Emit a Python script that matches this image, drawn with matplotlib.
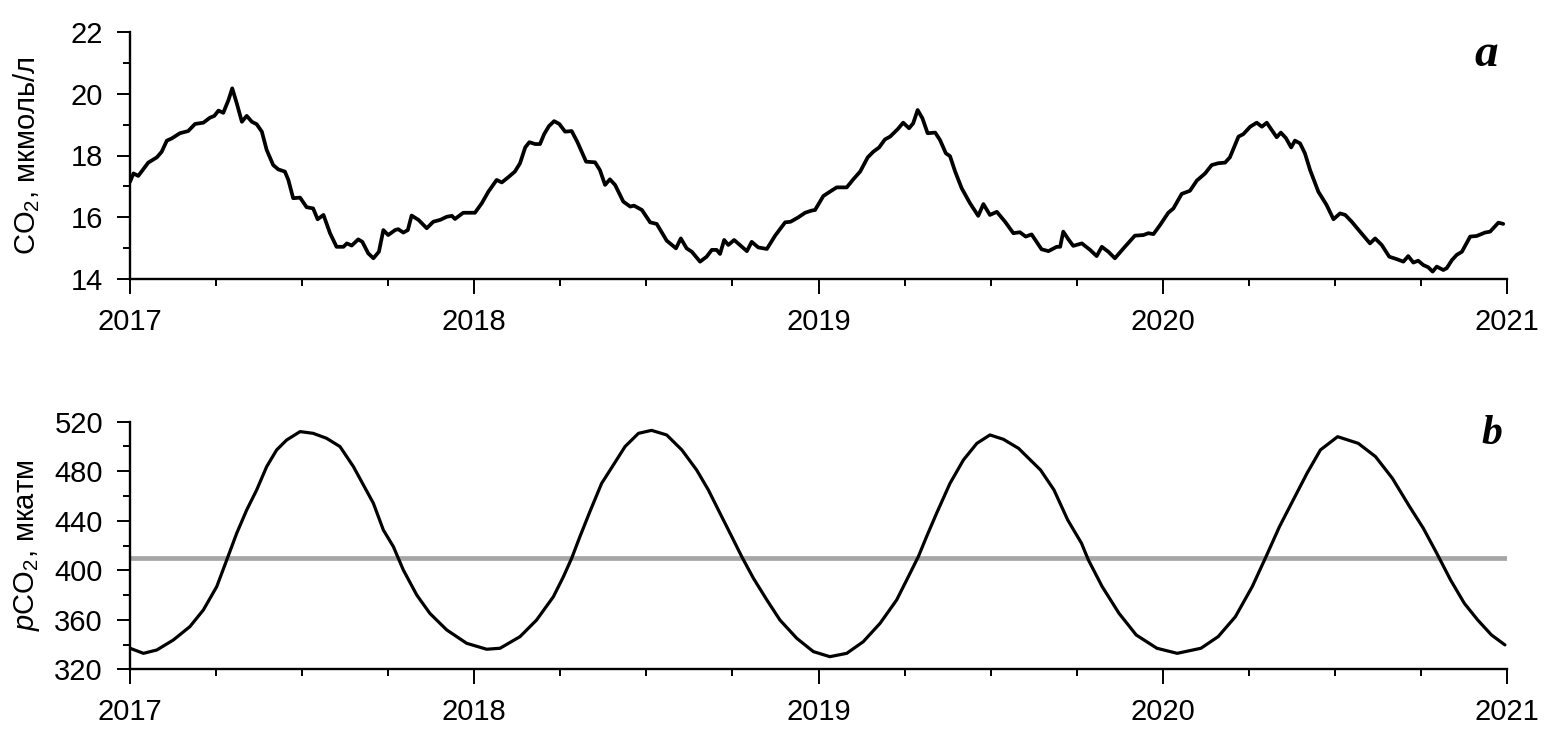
import matplotlib
matplotlib.use("Agg")
import matplotlib.pyplot as plt
from matplotlib.ticker import MultipleLocator

plt.rcParams['font.family'] = ['Liberation Sans', 'DejaVu Sans']
plt.rcParams['mathtext.fontset'] = 'custom'
plt.rcParams['mathtext.rm'] = 'Liberation Sans'
plt.rcParams['mathtext.it'] = 'Liberation Sans:italic'

# ---- Panel a: dissolved CO2, umol/L ----
co2_t = [2017.000, 2017.010, 2017.024, 2017.053, 2017.078, 2017.092, 2017.107, 2017.121,
         2017.145, 2017.169, 2017.189, 2017.213, 2017.232, 2017.245, 2017.257, 2017.271,
         2017.286, 2017.297, 2017.310, 2017.325, 2017.339, 2017.354, 2017.368, 2017.383,
         2017.397, 2017.416, 2017.431, 2017.450, 2017.460, 2017.474, 2017.494, 2017.513,
         2017.532, 2017.545, 2017.562, 2017.581, 2017.600, 2017.620, 2017.630, 2017.644,
         2017.663, 2017.675, 2017.692, 2017.707, 2017.723, 2017.736, 2017.750, 2017.770,
         2017.779, 2017.794, 2017.807, 2017.818, 2017.838, 2017.862, 2017.881, 2017.901,
         2017.920, 2017.935, 2017.944, 2017.968, 2017.997,
         2018.002, 2018.022, 2018.041, 2018.065, 2018.080, 2018.099, 2018.118, 2018.133,
         2018.148, 2018.160, 2018.177, 2018.191, 2018.203, 2018.217, 2018.232, 2018.247,
         2018.264, 2018.283, 2018.299, 2018.325, 2018.351, 2018.365, 2018.380, 2018.394,
         2018.409, 2018.433, 2018.453, 2018.464, 2018.487, 2018.511, 2018.530, 2018.559,
         2018.586, 2018.600, 2018.617, 2018.632, 2018.656, 2018.675, 2018.690, 2018.704,
         2018.714, 2018.726, 2018.738, 2018.755, 2018.792, 2018.806, 2018.825, 2018.850,
         2018.874, 2018.903, 2018.919, 2018.941, 2018.961, 2018.980, 2018.990,
         2019.014, 2019.033, 2019.053, 2019.082, 2019.101, 2019.121, 2019.143, 2019.159,
         2019.176, 2019.193, 2019.208, 2019.230, 2019.246, 2019.263, 2019.275, 2019.288,
         2019.302, 2019.317, 2019.339, 2019.353, 2019.370, 2019.382, 2019.397, 2019.416,
         2019.440, 2019.464, 2019.479, 2019.498, 2019.518, 2019.542, 2019.566, 2019.585,
         2019.602, 2019.619, 2019.648, 2019.668, 2019.692, 2019.702, 2019.711, 2019.726,
         2019.740, 2019.765, 2019.789, 2019.808, 2019.823, 2019.842, 2019.861, 2019.890,
         2019.919, 2019.944, 2019.958, 2019.973, 2019.992,
         2020.016, 2020.031, 2020.055, 2020.079, 2020.099, 2020.123, 2020.142, 2020.161,
         2020.181, 2020.195, 2020.220, 2020.234, 2020.254, 2020.273, 2020.288, 2020.302,
         2020.317, 2020.331, 2020.343, 2020.358, 2020.373, 2020.384, 2020.399, 2020.413,
         2020.428, 2020.452, 2020.476, 2020.496, 2020.515, 2020.530, 2020.549, 2020.573,
         2020.602, 2020.617, 2020.636, 2020.658, 2020.680, 2020.699, 2020.713, 2020.728,
         2020.742, 2020.757, 2020.771, 2020.784, 2020.796, 2020.815, 2020.825, 2020.840,
         2020.854, 2020.869, 2020.893, 2020.912, 2020.936, 2020.951, 2020.975, 2020.989]
co2_v = [17.15, 17.42, 17.34, 17.77, 17.94, 18.12, 18.48, 18.55,
         18.72, 18.79, 19.02, 19.06, 19.22, 19.28, 19.45, 19.38,
         19.79, 20.17, 19.69, 19.09, 19.28, 19.09, 19.01, 18.77,
         18.18, 17.69, 17.55, 17.48, 17.21, 16.62, 16.64, 16.33,
         16.29, 15.94, 16.08, 15.49, 15.05, 15.05, 15.16, 15.09,
         15.29, 15.21, 14.84, 14.68, 14.89, 15.59, 15.43, 15.59,
         15.62, 15.51, 15.59, 16.06, 15.92, 15.65, 15.86, 15.92,
         16.02, 16.05, 15.95, 16.15, 16.15,
         16.15, 16.46, 16.83, 17.21, 17.13, 17.30, 17.48, 17.75,
         18.26, 18.43, 18.37, 18.37, 18.69, 18.95, 19.11, 19.02,
         18.77, 18.79, 18.45, 17.80, 17.78, 17.53, 17.05, 17.23,
         17.05, 16.51, 16.35, 16.38, 16.24, 15.84, 15.79, 15.25,
         15.00, 15.32, 15.00, 14.89, 14.57, 14.73, 14.95, 14.95,
         14.82, 15.27, 15.11, 15.27, 14.91, 15.21, 15.03, 14.98,
         15.41, 15.84, 15.86, 16.00, 16.15, 16.22, 16.24,
         16.69, 16.83, 16.97, 16.97, 17.23, 17.48, 17.94, 18.12,
         18.26, 18.52, 18.61, 18.85, 19.06, 18.88, 19.04, 19.47,
         19.20, 18.72, 18.74, 18.50, 18.07, 17.98, 17.48, 16.94,
         16.46, 16.05, 16.43, 16.08, 16.18, 15.86, 15.49, 15.52,
         15.38, 15.45, 14.97, 14.91, 15.05, 15.05, 15.54, 15.29,
         15.08, 15.16, 14.95, 14.75, 15.05, 14.89, 14.68, 15.05,
         15.41, 15.43, 15.49, 15.46, 15.75,
         16.15, 16.29, 16.76, 16.86, 17.19, 17.42, 17.69, 17.75,
         17.77, 17.94, 18.61, 18.69, 18.93, 19.06, 18.93, 19.06,
         18.82, 18.59, 18.74, 18.56, 18.26, 18.48, 18.39, 18.07,
         17.53, 16.83, 16.40, 15.94, 16.13, 16.08, 15.86, 15.54,
         15.16, 15.32, 15.11, 14.73, 14.65, 14.57, 14.75, 14.54,
         14.60, 14.46, 14.39, 14.25, 14.41, 14.30, 14.36, 14.62,
         14.79, 14.89, 15.38, 15.40, 15.51, 15.54, 15.83, 15.79]

# ---- Panel b: pCO2, uatm ----
pco2_t = [2017.000, 2017.039, 2017.078, 2017.126, 2017.174, 2017.213, 2017.252, 2017.281,
          2017.310, 2017.339, 2017.368, 2017.397, 2017.426, 2017.455, 2017.494, 2017.532,
          2017.571, 2017.610, 2017.649, 2017.678, 2017.707, 2017.736, 2017.765, 2017.794,
          2017.833, 2017.871, 2017.920, 2017.978, 2018.036, 2018.075, 2018.133, 2018.181,
          2018.230, 2018.259, 2018.283, 2018.307, 2018.336, 2018.370, 2018.404, 2018.438,
          2018.477, 2018.515, 2018.559, 2018.603, 2018.646, 2018.680, 2018.714, 2018.748,
          2018.777, 2018.811, 2018.850, 2018.888, 2018.937, 2018.985, 2019.033, 2019.082,
          2019.130, 2019.179, 2019.227, 2019.261, 2019.290, 2019.314, 2019.343, 2019.382,
          2019.421, 2019.460, 2019.498, 2019.537, 2019.581, 2019.645, 2019.684, 2019.724,
          2019.764, 2019.784, 2019.824, 2019.873, 2019.923, 2019.983, 2020.042, 2020.111,
          2020.161, 2020.211, 2020.260, 2020.300, 2020.339, 2020.379, 2020.419, 2020.458,
          2020.508, 2020.568, 2020.618, 2020.667, 2020.717, 2020.757, 2020.796, 2020.836,
          2020.876, 2020.915, 2020.955, 2020.994]
pco2_v = [337.0, 332.9, 335.6, 343.7, 354.5, 367.9, 386.8, 408.3,
          429.9, 448.7, 464.9, 483.7, 497.2, 505.2, 512.0, 510.6,
          506.6, 499.9, 483.7, 468.9, 454.1, 432.5, 419.1, 400.2,
          380.0, 365.2, 351.8, 341.0, 336.2, 337.0, 346.4, 359.8,
          378.7, 394.8, 409.7, 427.2, 447.4, 470.2, 485.0, 499.9,
          510.6, 513.0, 509.3, 497.2, 481.0, 464.9, 446.0, 427.2,
          411.0, 393.5, 376.0, 359.8, 345.0, 334.3, 330.2, 332.9,
          342.3, 357.2, 376.0, 394.8, 411.0, 427.2, 446.0, 470.2,
          489.1, 502.5, 509.3, 505.8, 498.5, 481.0, 464.9, 440.6,
          421.8, 408.3, 386.8, 365.2, 347.7, 337.0, 332.9, 337.0,
          346.4, 362.5, 386.8, 411.0, 435.2, 456.8, 478.3, 497.2,
          507.9, 502.5, 491.8, 474.3, 451.4, 433.9, 413.7, 392.2,
          373.3, 359.8, 347.7, 339.7]
pco2_atm = 410

year_ticks = [2017, 2018, 2019, 2020, 2021]
year_labels = ['2017', '2018', '2019', '2020', '2021']
co2_ticks = [14, 16, 18, 20, 22]
pco2_ticks = [320, 360, 400, 440, 480, 520]

W, H = 1553, 748
fig = plt.figure(figsize=(W / 100, H / 100), dpi=100)

def px_axes(left, right, top, bottom):
    return fig.add_axes([left / W, 1 - bottom / H, (right - left) / W, (bottom - top) / H])

ax1 = px_axes(130, 1507, 31.7, 279.3)
ax2 = px_axes(130, 1507, 421.7, 669.3)

ax1.plot(co2_t, co2_v, color='black', lw=2.7, solid_joinstyle='round',
         solid_capstyle='round', zorder=3)
ax2.axhline(pco2_atm, color='#a6a6a6', lw=3.4, zorder=2)
ax2.plot(pco2_t, pco2_v, color='black', lw=2.3, solid_joinstyle='round',
         solid_capstyle='round', zorder=3)

for ax, yt, ylim, ymin in [(ax1, co2_ticks, (14, 22), 1), (ax2, pco2_ticks, (320, 520), 20)]:
    ax.set_xlim(2017, 2021)
    ax.set_ylim(*ylim)
    ax.set_xticks(year_ticks)
    ax.set_xticklabels(year_labels)
    ax.set_yticks(yt)
    ax.xaxis.set_minor_locator(MultipleLocator(0.25))
    ax.yaxis.set_minor_locator(MultipleLocator(ymin))
    for s in ['top', 'right']:
        ax.spines[s].set_visible(False)
    for s in ['left', 'bottom']:
        ax.spines[s].set_linewidth(1.7)
    ax.tick_params(axis='x', which='major', direction='out', length=10.5, width=1.4,
                   pad=10, labelsize=21)
    ax.tick_params(axis='x', which='minor', direction='out', length=5.3, width=1.4)
    ax.tick_params(axis='y', which='major', direction='out', length=9.5, width=1.4,
                   pad=10, labelsize=21)
    ax.tick_params(axis='y', which='minor', direction='out', length=5, width=1.4)

ax1.set_ylabel('CO$_2$, мкмоль/л', fontsize=21)
ax2.set_ylabel('$p$CO$_2$, мкатм', fontsize=21)
ax1.yaxis.set_label_coords(-0.064, 0.5)
ax2.yaxis.set_label_coords(-0.064, 0.5)

fig.text(1498 / W, 1 - 66 / H, 'a', ha='right', va='baseline', fontsize=34,
         family='Liberation Serif', weight='bold', style='italic')
fig.text(1502 / W, 1 - 444 / H, 'b', ha='right', va='baseline', fontsize=30,
         family='Liberation Serif', weight='bold', style='italic')

fig.savefig('out.png', dpi=100)
